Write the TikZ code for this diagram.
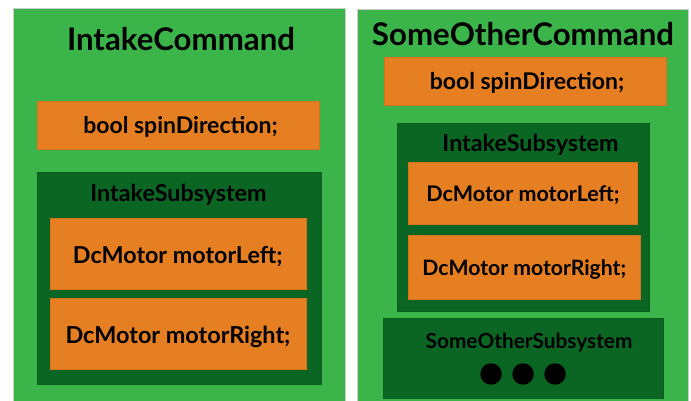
\documentclass[tikz,border=0pt]{standalone}
\usepackage{fontspec}
\setmainfont{Lato}
\definecolor{lightgreen}{RGB}{59,181,74}
\definecolor{darkgreen}{RGB}{12,102,35}
\definecolor{boxorange}{RGB}{230,126,34}
\begin{document}
\begin{tikzpicture}[x=1pt,y=-1pt,
  panel/.style={rectangle, fill=lightgreen, draw=gray!40, line width=0.6pt, inner sep=0pt},
  subbox/.style={rectangle, fill=darkgreen, draw=darkgreen!90!black, line width=0.4pt, inner sep=0pt},
  field/.style={rectangle, fill=boxorange, draw=boxorange!92!black, line width=0.4pt, inner sep=0pt},
  lbl/.style={inner sep=0pt, anchor=base, font=\bfseries\fontsize{#1}{#1}\selectfont, text=black},
  dot/.style={circle, fill=black, inner sep=0pt, minimum size=21.5pt}]
\useasboundingbox[fill=white] (0,0) rectangle (691,401);
% left panel
\node[panel, minimum width=332pt, minimum height=393pt] (lp) at (179,204.5) {};
\node[lbl=31.2] (lt) at (181,51) {IntakeCommand};
\node[field, minimum width=282pt, minimum height=48pt] (lspin) at (178,125) {};
\node[lbl=23] (lspint) at (180.5,134) {bool spinDirection;};
\node[subbox, minimum width=284pt, minimum height=212pt] (lsub) at (179,278) {};
\node[lbl=23.3] (lsubt) at (178.5,201) {IntakeSubsystem};
\node[field, minimum width=256pt, minimum height=71pt] (lml) at (178,253.5) {};
\node[lbl=23.3] (lmlt) at (177.7,263) {DcMotor motorLeft;};
\node[field, minimum width=256pt, minimum height=71pt] (lmr) at (178,333.5) {};
\node[lbl=23.4] (lmrt) at (178,343) {DcMotor motorRight;};
% right panel
\node[panel, minimum width=331pt, minimum height=392pt] (rp) at (522.5,205) {};
\node[lbl=31.2] (rt) at (523,46) {SomeOtherCommand};
\node[field, minimum width=282pt, minimum height=48pt] (rspin) at (525,81) {};
\node[lbl=23] (rspint) at (527,90) {bool spinDirection;};
\node[subbox, minimum width=252pt, minimum height=188pt] (rsub) at (523,217) {};
\node[lbl=23.3] (rsubt) at (530.5,152) {IntakeSubsystem};
\node[field, minimum width=229pt, minimum height=62pt] (rml) at (522.5,193) {};
\node[lbl=21.5] (rmlt) at (523,201) {DcMotor motorLeft;};
\node[field, minimum width=232pt, minimum height=64pt] (rmr) at (524,267) {};
\node[lbl=21.2] (rmrt) at (524.3,275) {DcMotor motorRight;};
\node[subbox, minimum width=280pt, minimum height=80pt] (ros) at (523,358) {};
\node[lbl=20.8] (rost) at (529,348) {SomeOtherSubsystem};
\node[dot] (d1) at (491,374) {};
\node[dot] (d2) at (523,374) {};
\node[dot] (d3) at (555,374) {};
\end{tikzpicture}
\end{document}
